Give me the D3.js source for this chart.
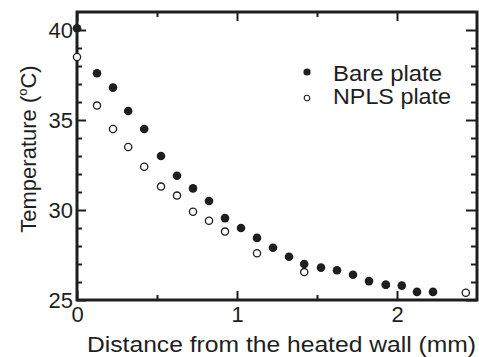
<!DOCTYPE html>
<html>
<head>
<meta charset="utf-8">
<script src="https://cdn.jsdelivr.net/npm/d3@7"></script>
<style>
  html, body { margin: 0; padding: 0; background: #fff; }
  svg { display: block; font-family: "Liberation Sans", Arial, sans-serif; }
</style>
</head>
<body>
<svg id="chart" width="479" height="357"></svg>
<script>
// distance from the heated wall (mm) and temperature (degC)
const bareX = [0, 0.125, 0.225, 0.32, 0.42, 0.525, 0.625, 0.725, 0.825, 0.925, 1.025,
  1.125, 1.225, 1.325, 1.42, 1.525, 1.625, 1.725, 1.825, 1.93, 2.03, 2.125, 2.225];
const bareT = [40.1, 37.6, 36.8, 35.5, 34.5, 33.0, 31.9, 31.2, 30.5, 29.55, 29.0,
  28.45, 27.9, 27.4, 27.0, 26.8, 26.65, 26.4, 26.05, 25.85, 25.8, 25.45, 25.45];
const nplsX = [0, 0.125, 0.225, 0.32, 0.42, 0.525, 0.625, 0.725, 0.825, 0.925,
  1.125, 1.42, 1.93, 2.43];
const nplsT = [38.5, 35.8, 34.5, 33.5, 32.4, 31.3, 30.8, 29.9, 29.4, 28.8,
  27.6, 26.55, 25.85, 25.4];

const xMajor = [0, 1, 2];
const xMinor = [0.5, 1.5];
const yMajor = [25, 30, 35, 40];
const yMinor = [26, 27, 28, 29, 31, 32, 33, 34, 36, 37, 38, 39];
const seriesNames = ["Bare plate", "NPLS plate"];

const svg = d3.select("#chart");
const margin = { top: 12, right: 2, bottom: 57, left: 77 };
const W = 479, H = 357;

const x = d3.scaleLinear().domain([0, 2.5]).range([margin.left, W - margin.right]);
const y = d3.scaleLinear().domain([25, 41]).range([H - margin.bottom, margin.top]);

const ink = "#1e1e1e";

// minor + major ticks on all four sides, pointing inward
function ticks(axis, tr, vals, size, labels) {
  const g = svg.append("g")
    .attr("transform", tr)
    .call(axis.tickValues(vals).tickSize(-size).tickSizeOuter(0)
      .tickPadding(labels ? 6 : 0)
      .tickFormat(labels ? d3.format("d") : () => ""));
  g.select(".domain").remove();
  g.selectAll(".tick line").attr("stroke", ink).attr("stroke-width", 2);
  g.selectAll(".tick text").attr("fill", ink).attr("font-size", 22)
    .style("font-family", "Liberation Sans, Arial, sans-serif");
  return g;
}
const bottomY = y.range()[0], topY = y.range()[1];
const leftX = x.range()[0], rightX = x.range()[1];

ticks(d3.axisBottom(x), `translate(0,${bottomY})`, xMajor, 9, true);
ticks(d3.axisBottom(x), `translate(0,${bottomY})`, xMinor, 5, false);
ticks(d3.axisTop(x), `translate(0,${topY})`, xMajor, 9, false);
ticks(d3.axisTop(x), `translate(0,${topY})`, xMinor, 5, false);
const yl = ticks(d3.axisLeft(y), `translate(${leftX},0)`, yMajor, 9, true);
yl.selectAll(".tick text").attr("x", -4);
ticks(d3.axisLeft(y), `translate(${leftX},0)`, yMinor, 5, false);
ticks(d3.axisRight(y), `translate(${rightX},0)`, yMajor, 11, false);
ticks(d3.axisRight(y), `translate(${rightX},0)`, yMinor, 6, false);

// frame
svg.append("rect")
  .attr("x", leftX).attr("y", topY)
  .attr("width", rightX - leftX).attr("height", bottomY - topY)
  .attr("fill", "none").attr("stroke", ink).attr("stroke-width", 3);

// data
svg.append("g").selectAll("circle")
  .data(d3.zip(nplsX, nplsT))
  .enter().append("circle")
  .attr("cx", d => x(d[0])).attr("cy", d => y(d[1]))
  .attr("r", 3.6)
  .attr("fill", "#fff").attr("stroke", ink).attr("stroke-width", 1.3);

svg.append("g").selectAll("circle")
  .data(d3.zip(bareX, bareT))
  .enter().append("circle")
  .attr("cx", d => x(d[0])).attr("cy", d => y(d[1]))
  .attr("r", 4.3)
  .attr("fill", ink);

// legend
const lg = svg.append("g").attr("transform", "translate(307,72)");
lg.append("circle").attr("cx", 0).attr("cy", 0).attr("r", 3.6).attr("fill", ink);
lg.append("circle").attr("cx", 0).attr("cy", 26).attr("r", 2.8)
  .attr("fill", "#fff").attr("stroke", ink).attr("stroke-width", 1.1);
lg.selectAll("text").data(seriesNames).enter().append("text")
  .attr("x", 26).attr("y", (d, i) => 9 + i * 23)
  .attr("font-size", 22).attr("fill", ink)
  .attr("textLength", (d, i) => i ? 118 : 109)
  .attr("lengthAdjust", "spacingAndGlyphs")
  .text(d => d);

// axis titles
svg.append("text")
  .attr("x", 87).attr("y", 352)
  .attr("font-size", 22).attr("fill", ink)
  .attr("textLength", 389).attr("lengthAdjust", "spacingAndGlyphs")
  .text("Distance from the heated wall (mm)");

const yt = svg.append("text")
  .attr("transform", "translate(36,149) rotate(-90)")
  .attr("text-anchor", "middle")
  .attr("font-size", 22).attr("fill", ink);
yt.append("tspan").text("Temperature (");
yt.append("tspan").attr("font-size", 13).attr("dy", -9).text("o");
yt.append("tspan").attr("dy", 9).text("C)");
</script>
</body>
</html>
